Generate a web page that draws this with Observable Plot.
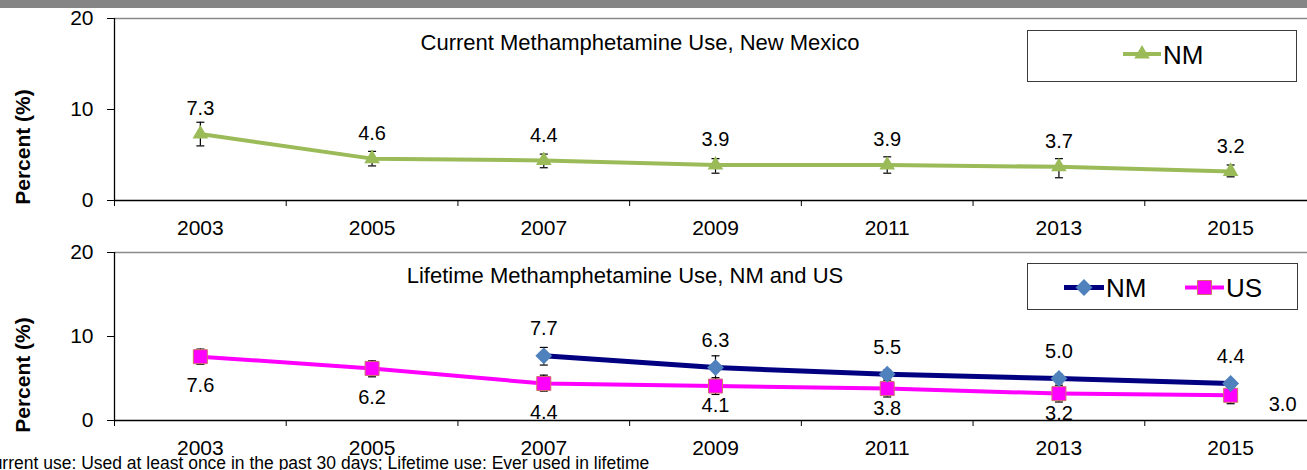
<!DOCTYPE html>
<html><head><meta charset="utf-8">
<script src="https://cdn.jsdelivr.net/npm/d3@7"></script>
<script src="https://cdn.jsdelivr.net/npm/@observablehq/plot@0.6"></script>
<style>
html,body{margin:0;padding:0;background:#fff;overflow:hidden;}
#page{position:relative;width:1307px;height:470px;overflow:hidden;font-family:"Liberation Sans",Arial,sans-serif;}
.panel{position:absolute;left:0;}
.panel svg{overflow:hidden;}
#topbar{position:absolute;left:0;top:0;width:1307px;height:8px;background:#858585;}
#overlay{position:absolute;left:0;top:0;}
</style></head><body>
<div id="page"><div id="p1" class="panel" style="top:0"></div><div id="p2" class="panel" style="top:240px"></div><div id="topbar"></div><svg id="overlay" width="1307" height="470"></svg></div>
<script>
// ---- data ----
const years = [2003, 2005, 2007, 2009, 2011, 2013, 2015];
const yTicks = [0, 10, 20];
const currentNM     = [7.3, 4.6, 4.4, 3.9, 3.9, 3.7, 3.2];
const currentNMLow  = [6.0, 3.8, 3.6, 3.0, 3.0, 2.5, 2.6];
const currentNMHigh = [8.6, 5.4, 5.1, 4.6, 4.8, 4.6, 3.9];
const lifetimeNM     = [null, null, 7.7, 6.3, 5.5, 5.0, 4.4];
const lifetimeNMLow  = [null, null, 6.6, 4.9, 5.0, 4.5, 4.0];
const lifetimeNMHigh = [null, null, 8.7, 7.7, 6.0, 5.5, 4.8];
const lifetimeUS     = [7.6, 6.2, 4.4, 4.1, 3.8, 3.2, 3.0];
const lifetimeUSLow  = [6.7, 5.2, 3.5, 3.1, 2.8, 2.2, 2.0];
const lifetimeUSHigh = [8.5, 7.1, 5.4, 5.1, 4.8, 4.2, 4.0];
const titleCurrent = "Current Methamphetamine Use, New Mexico";
const titleLifetime = "Lifetime Methamphetamine Use, NM and US";
const yLabel = "Percent (%)";
const caption = "Current use: Used at least once in the past 30 days; Lifetime use: Ever used in lifetime";

// ---- colors/styles ----
const GREEN = "#9BBB59", NAVY = "#000080", MAGENTA = "#FF00FF", BLUE = "#4F81BD", SQ_STROKE = "#D0706A";
const FONT = '"Liberation Sans", Arial, sans-serif';

const rows = (v, lo, hi) => years.map((year, i) => ({year, value: v[i], low: lo[i], high: hi[i]})).filter(d => d.value != null);
const curRows = rows(currentNM, currentNMLow, currentNMHigh);
const nmRows = rows(lifetimeNM, lifetimeNMLow, lifetimeNMHigh);
const usRows = rows(lifetimeUS, lifetimeUSLow, lifetimeUSHigh);

const xDomain = [years[0] - 1, years[years.length - 1] + 1];
const boundaries = [years[0] - 1, ...years.map(y => y + 1)];
const capSymbol = {draw(ctx, size) { const w = Math.sqrt(size / Math.PI); ctx.moveTo(-w, 0); ctx.lineTo(w, 0); }};

function errorMarks(data) {
  return [
    Plot.ruleX(data, {x: "year", y1: "low", y2: "high", stroke: "#000", strokeWidth: 1.2}),
    Plot.dot(data, {x: "year", y: "low", symbol: capSymbol, r: 4, stroke: "#000", fill: "none", strokeWidth: 1.2}),
    Plot.dot(data, {x: "year", y: "high", symbol: capSymbol, r: 4, stroke: "#000", fill: "none", strokeWidth: 1.2})
  ];
}

function frameMarks() {
  return [
    Plot.ruleY([yTicks[yTicks.length - 1]], {stroke: "#8a8a8a", strokeWidth: 1.5}),
    Plot.axisY({ticks: yTicks, tickSize: 7, tickPadding: 14, fontSize: 21, label: null, tickFormat: d => String(d)}),
    Plot.axisX({ticks: boundaries, tickSize: 6, tickFormat: () => "", label: null}),
    Plot.axisX({ticks: years, tickSize: 0, tickPadding: 20, fontSize: 21, tickFormat: d => String(d), label: null}),
    Plot.ruleY([0], {stroke: "#000", strokeWidth: 1.3}),
    Plot.ruleX([xDomain[0]], {stroke: "#000", strokeWidth: 1.3})
  ];
}

const common = {
  width: 1307, marginLeft: 114, marginRight: 0,
  x: {type: "linear", domain: xDomain, range: [114, 1316]},
  y: {domain: [0, 20]},
  style: {fontFamily: FONT, fontSize: "21px", color: "#000", background: "transparent", overflow: "hidden"}
};

const p1 = Plot.plot({
  ...common, height: 240, marginTop: 18, marginBottom: 40,
  marks: [
    ...frameMarks(),
    Plot.line(curRows, {x: "year", y: "value", stroke: GREEN, strokeWidth: 4}),
    ...errorMarks(curRows),
    Plot.dot(curRows, {x: "year", y: "value", symbol: "triangle", r: 5.8, fill: GREEN, stroke: "none"}),
    Plot.text(curRows, {x: "year", y: "value", text: d => d.value.toFixed(1), dy: -25, fontSize: 20, fill: "#000"})
  ]
});
document.getElementById("p1").appendChild(p1);

const p2 = Plot.plot({
  ...common, height: 230, marginTop: 12, marginBottom: 50,
  marks: [
    ...frameMarks(),
    Plot.line(usRows, {x: "year", y: "value", stroke: MAGENTA, strokeWidth: 4}),
    Plot.line(nmRows, {x: "year", y: "value", stroke: NAVY, strokeWidth: 5}),
    ...errorMarks(nmRows),
    ...errorMarks(usRows),
    Plot.dot(usRows, {x: "year", y: "value", symbol: "square", r: 7.9, fill: MAGENTA, stroke: SQ_STROKE, strokeWidth: 1}),
    Plot.dot(nmRows, {x: "year", y: "value", symbol: "diamond2", r: 7.6, fill: BLUE, stroke: "none"}),
    Plot.text(nmRows, {x: "year", y: "value", text: d => d.value.toFixed(1), dy: -27, fontSize: 20, fill: "#000"}),
    Plot.text(usRows, {filter: d => d.year < 2009, x: "year", y: "value", text: d => d.value.toFixed(1), dy: 29, fontSize: 20, fill: "#000"}),
    Plot.text(usRows, {filter: d => d.year >= 2009 && d.year < years[years.length - 1], x: "year", y: "value", text: d => d.value.toFixed(1), dy: 20, fontSize: 20, fill: "#000"}),
    Plot.text(usRows, {filter: d => d.year === years[years.length - 1], x: "year", y: "value", text: d => d.value.toFixed(1), dx: 52, dy: 9, fontSize: 20, fill: "#000"})
  ]
});
document.getElementById("p2").appendChild(p2);

// ---- titles, axis labels, legends, caption ----
const ov = d3.select("#overlay").style("font-family", FONT);
ov.append("text").attr("x", 640).attr("y", 50).attr("text-anchor", "middle").attr("font-size", 22).text(titleCurrent);
ov.append("text").attr("x", 625).attr("y", 283).attr("text-anchor", "middle").attr("font-size", 22).text(titleLifetime);
ov.append("text").attr("x", -20).attr("y", 469).attr("font-size", 17.5).text(caption);
[147, 375].forEach(cy => {
  ov.append("text").attr("transform", `translate(30,${cy}) rotate(-90)`).attr("text-anchor", "middle")
    .attr("font-size", 21).attr("font-weight", "bold").text(yLabel);
});

function legendBox(x, y, w, h) {
  ov.append("rect").attr("x", x + 0.5).attr("y", y + 0.5).attr("width", w).attr("height", h)
    .attr("fill", "#fff").attr("stroke", "#3a3a3a").attr("stroke-width", 1);
}
function legendItem(x1, x2, y, color, width, symType, symSize, fill, stroke, label) {
  ov.append("line").attr("x1", x1).attr("x2", x2).attr("y1", y).attr("y2", y).attr("stroke", color).attr("stroke-width", width);
  ov.append("path").attr("d", d3.symbol().type(symType).size(symSize)()).attr("transform", `translate(${(x1 + x2) / 2},${y})`)
    .attr("fill", fill).attr("stroke", stroke);
  ov.append("text").attr("x", x2 + 2).attr("y", y + 9.5).attr("font-size", 26).text(label);
}
legendBox(1027, 30, 269, 51);
legendItem(1123, 1161, 54, GREEN, 4, d3.symbolTriangle, Math.PI * 5.8 * 5.8, GREEN, "none", "NM");
legendBox(1027, 263, 270, 46);
legendItem(1064, 1104, 287.5, NAVY, 5, d3.symbolDiamond2, Math.PI * 7.6 * 7.6, BLUE, "none", "NM");
legendItem(1185, 1224, 287.5, MAGENTA, 4, d3.symbolSquare, Math.PI * 7.9 * 7.9, MAGENTA, SQ_STROKE, "US");
</script></body></html>
